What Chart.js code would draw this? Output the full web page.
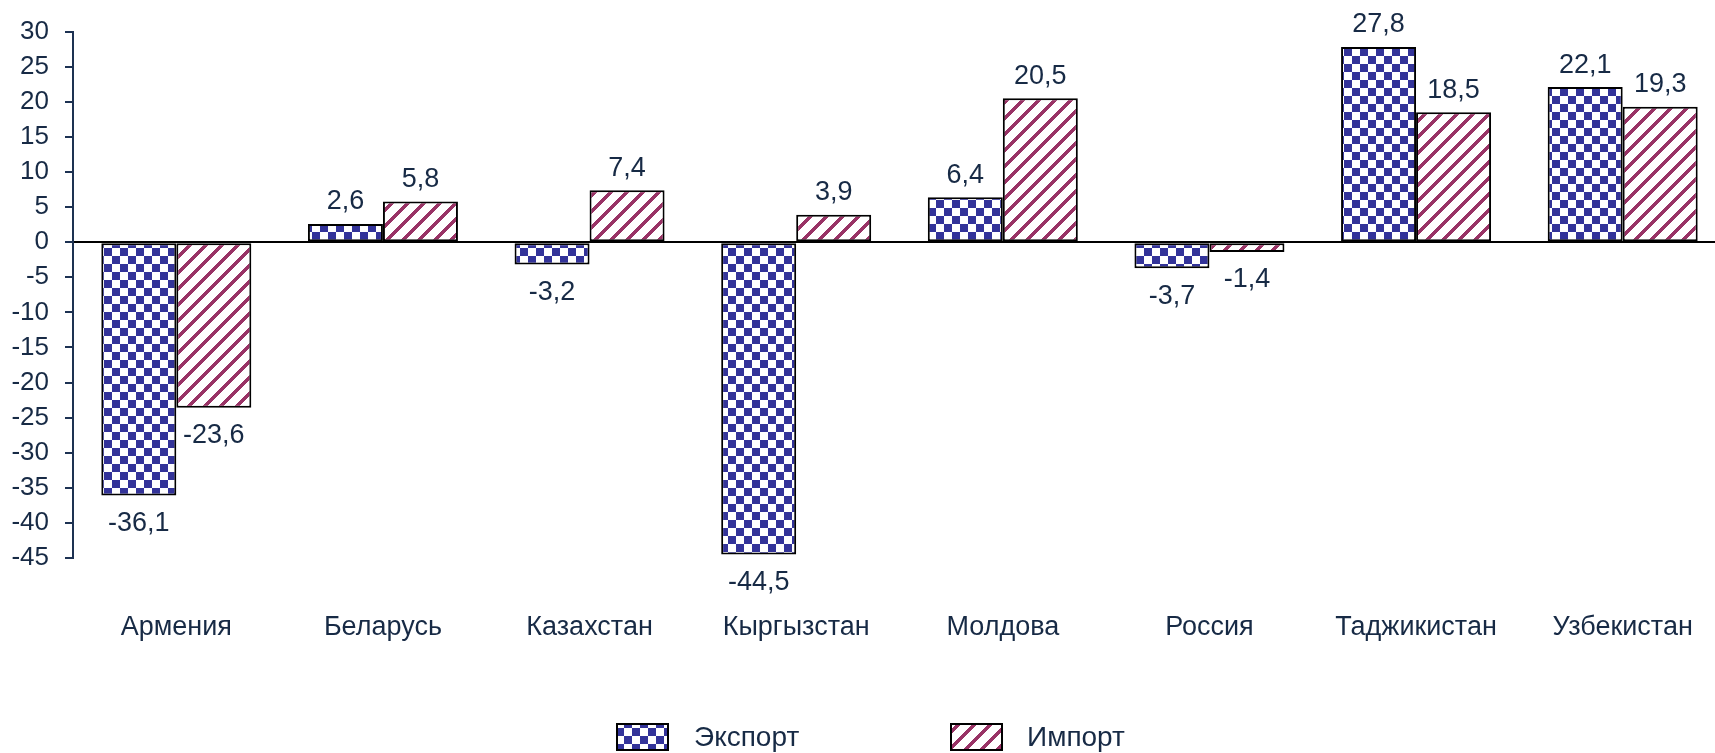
<!DOCTYPE html>
<html>
<head>
<meta charset="utf-8">
<script src="https://cdn.jsdelivr.net/npm/chart.js@4.4.0/dist/chart.umd.min.js"></script>
<style>
  html, body { margin: 0; padding: 0; background: #ffffff; overflow: hidden; }
  #wrap { width: 1715px; height: 753px; overflow: hidden; position: relative; }
  canvas { display: block; }
</style>
</head>
<body>
<div id="wrap"><canvas id="c" width="1730" height="753" style="width:1730px;height:753px"></canvas></div>
<script>
const categories = ['Армения', 'Беларусь', 'Казахстан', 'Кыргызстан', 'Молдова', 'Россия', 'Таджикистан', 'Узбекистан'];
const exportValues = [-36.1, 2.6, -3.2, -44.5, 6.4, -3.7, 27.8, 22.1];
const importValues = [-23.6, 5.8, 7.4, 3.9, 20.5, -1.4, 18.5, 19.3];
const seriesNames = ['Экспорт', 'Импорт'];
const yMin = -45, yMax = 30, yStep = 5;

const TEXT = '#172a45';
const AXIS = '#1d3252';
const FONT = "'Liberation Sans', Arial, sans-serif";

function checkerPattern() {
  const c = document.createElement('canvas');
  c.width = 16; c.height = 16;
  const g = c.getContext('2d');
  g.fillStyle = '#ffffff'; g.fillRect(0, 0, 16, 16);
  g.fillStyle = '#333399';
  g.fillRect(0, 0, 8, 8); g.fillRect(8, 8, 8, 8);
  return g.createPattern(c, 'repeat');
}
function stripePattern() {
  const n = 16;
  const c = document.createElement('canvas');
  c.width = n; c.height = n;
  const g = c.getContext('2d');
  const img = g.createImageData(n, n);
  for (let y = 0; y < n; y++) {
    for (let x = 0; x < n; x++) {
      const i = (y * n + x) * 4;
      const on = ((x + y) % n) < 5;
      img.data[i] = on ? 0x99 : 255;
      img.data[i + 1] = on ? 0x33 : 255;
      img.data[i + 2] = on ? 0x66 : 255;
      img.data[i + 3] = 255;
    }
  }
  g.putImageData(img, 0, 0);
  return g.createPattern(c, 'repeat');
}
const patExport = checkerPattern();
const patImport = stripePattern();
const patterns = [patExport, patImport];

function fmt(v) { return String(v).replace('.', ','); }

const dataLabels = {
  id: 'dataLabels',
  afterDatasetsDraw(chart) {
    const ctx = chart.ctx;
    ctx.save();
    ctx.font = '27px ' + FONT;
    ctx.fillStyle = TEXT;
    ctx.textAlign = 'center';
    ctx.textBaseline = 'middle';
    chart.data.datasets.forEach((ds, di) => {
      const meta = chart.getDatasetMeta(di);
      meta.data.forEach((el, i) => {
        const v = ds.data[i];
        const y = v >= 0 ? el.y - 22 : el.y + 28;
        ctx.fillText(fmt(v), el.x, y);
      });
    });
    ctx.restore();
  }
};

const customLegend = {
  id: 'customLegend',
  afterDraw(chart) {
    const ctx = chart.ctx;
    const items = [
      { box: 617, text: 694 },
      { box: 951, text: 1027 }
    ];
    ctx.save();
    items.forEach((it, i) => {
      ctx.fillStyle = patterns[i];
      ctx.fillRect(it.box, 724, 51, 26);
      ctx.strokeStyle = '#000000';
      ctx.lineWidth = 2;
      ctx.strokeRect(it.box, 724, 51, 26);
      ctx.font = '28px ' + FONT;
      ctx.fillStyle = TEXT;
      ctx.textAlign = 'left';
      ctx.textBaseline = 'middle';
      ctx.fillText(seriesNames[i], it.text, 738);
    });
    ctx.restore();
  }
};

new Chart(document.getElementById('c'), {
  type: 'bar',
  data: {
    labels: categories,
    datasets: [
      { label: seriesNames[0], data: exportValues, backgroundColor: patExport, borderColor: '#000000', borderWidth: 2, borderSkipped: false },
      { label: seriesNames[1], data: importValues, backgroundColor: patImport, borderColor: '#000000', borderWidth: 2, borderSkipped: false }
    ]
  },
  options: {
    responsive: false,
    animation: false,
    devicePixelRatio: 1,
    layout: { padding: { top: 29, right: 4, left: 0, bottom: 0 } },
    datasets: { bar: { categoryPercentage: 0.726, barPercentage: 1.0 } },
    plugins: { legend: { display: false }, tooltip: { enabled: false } },
    scales: {
      x: {
        grid: { display: true, drawOnChartArea: false, drawTicks: true, tickLength: 53, tickColor: 'rgba(0,0,0,0)', color: 'rgba(0,0,0,0)' },
        border: { display: false },
        ticks: { color: TEXT, font: { family: FONT, size: 27 }, padding: 0, maxRotation: 0, autoSkip: false },
        afterFit(scale) { scale.height = 195; scale.paddingLeft = 0; scale.paddingRight = 0; }
      },
      y: {
        min: yMin, max: yMax,
        ticks: { stepSize: yStep, color: TEXT, font: { family: FONT, size: 26 }, padding: 16 },
        grid: {
          color: (c) => (c.tick && c.tick.value === 0 ? '#000000' : 'rgba(0,0,0,0)'),
          lineWidth: 2,
          tickColor: AXIS,
          tickLength: 8,
          tickWidth: 2,
          drawTicks: true
        },
        border: { display: true, color: AXIS, width: 2 },
        afterFit(scale) { scale.width = 73; }
      }
    }
  },
  plugins: [dataLabels, customLegend]
});
</script>
</body>
</html>
